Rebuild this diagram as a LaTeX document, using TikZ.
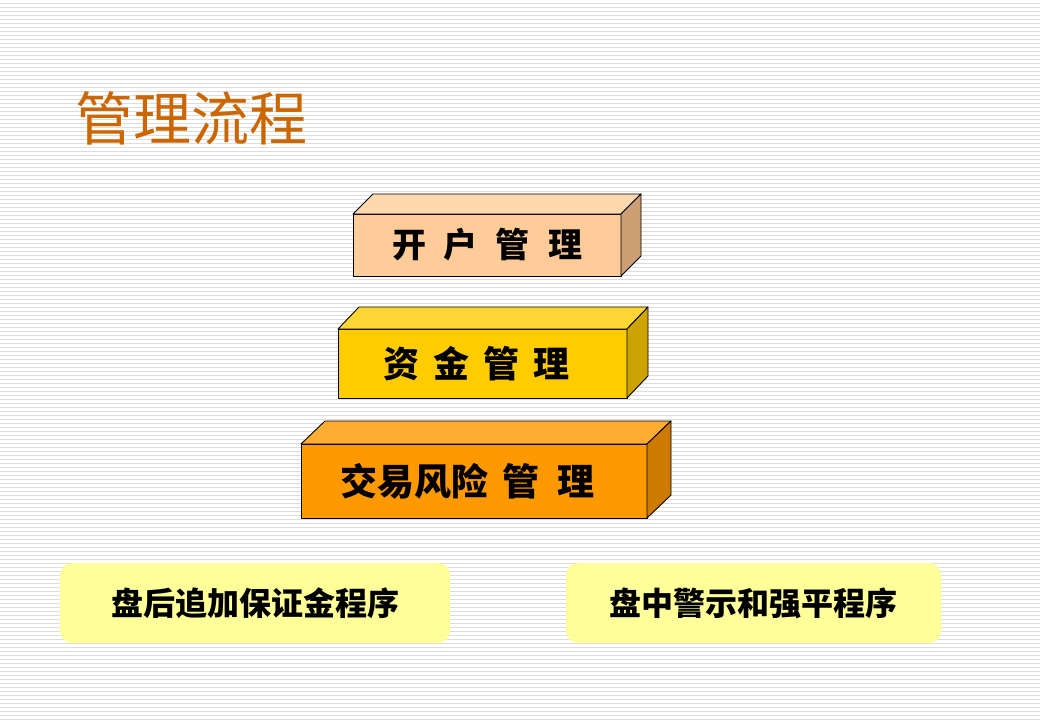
\documentclass[tikz,border=0pt]{standalone}
\usepackage{fontspec}
\newfontfamily\cjk{Noto Sans CJK SC}
\definecolor{titleorange}{RGB}{204,102,0}
\definecolor{stripegray}{RGB}{221,221,221}
\definecolor{peachfront}{RGB}{255,204,153}
\definecolor{peachtop}{RGB}{255,217,173}
\definecolor{peachside}{RGB}{204,158,116}
\definecolor{goldfront}{RGB}{255,204,0}
\definecolor{goldtop}{RGB}{255,214,51}
\definecolor{goldside}{RGB}{204,163,0}
\definecolor{orangefront}{RGB}{255,153,0}
\definecolor{orangetop}{RGB}{255,173,51}
\definecolor{orangeside}{RGB}{204,122,0}
\definecolor{notefill}{RGB}{255,255,153}
\tikzset{
  stripe/.style={draw=stripegray, line width=1.2pt},
  face/.style={draw=black, line width=0.9pt, line join=round},
  front/.style={face, inner sep=0pt, outer sep=0pt, font=\cjk\bfseries},
  note/.style={fill=notefill, rounded corners=12pt, inner sep=0pt, outer sep=0pt,
    minimum height=80pt, font=\cjk\bfseries\fontsize{32}{36}\selectfont}
}
\begin{document}
\begin{tikzpicture}[x=1pt, y=-1pt]
  \useasboundingbox (0,0) rectangle (1040,720);
  \fill[white] (0,0) rectangle (1040,720);
  % striped background
  \foreach \k in {0,...,179}
    \draw[stripe] (0,4*\k+3.5) -- (1040,4*\k+3.5);

  \node[anchor=west, text=titleorange, font=\cjk\fontsize{58}{64}\selectfont] (title) at (72,118) {管理流程};

  % top box
  \node[front, fill=peachfront, minimum width=268pt, minimum height=62pt,
    font=\cjk\bfseries\fontsize{34}{38}\selectfont] (acct) at (487,245)
    {开\hspace{18pt}户\hspace{18pt}管\hspace{18pt}理};
  \draw[face, fill=peachtop] (acct.north west) -- ++(20,-20) -- ++(268,0) -- (acct.north east) -- cycle;
  \draw[face, fill=peachside] (acct.north east) -- ++(20,-20) -- ++(0,62) -- (acct.south east) -- cycle;

  % middle box
  \node[front, fill=goldfront, minimum width=289pt, minimum height=69pt,
    font=\cjk\bfseries\fontsize{36}{40}\selectfont] (fund) at (482.5,363.5)
    {资\hspace{14pt}金\hspace{14pt}管\hspace{14pt}理\kern12pt};
  \draw[face, fill=goldtop] (fund.north west) -- ++(21,-22) -- ++(289,0) -- (fund.north east) -- cycle;
  \draw[face, fill=goldside] (fund.north east) -- ++(21,-22) -- ++(0,69) -- (fund.south east) -- cycle;

  % bottom box
  \node[front, fill=orangefront, minimum width=346pt, minimum height=74pt,
    font=\cjk\bfseries\fontsize{37}{42}\selectfont] (risk) at (474,481)
    {交易风险\hspace{14pt}管\hspace{18pt}理\kern13pt};
  \draw[face, fill=orangetop] (risk.north west) -- ++(24,-23) -- ++(346,0) -- (risk.north east) -- cycle;
  \draw[face, fill=orangeside] (risk.north east) -- ++(24,-23) -- ++(0,74) -- (risk.south east) -- cycle;

  % procedures
  \node[note, minimum width=390pt] (after) at (255,603) {盘后追加保证金程序};
  \node[note, minimum width=375pt] (during) at (753.5,603) {盘中警示和强平程序};
\end{tikzpicture}
\end{document}
